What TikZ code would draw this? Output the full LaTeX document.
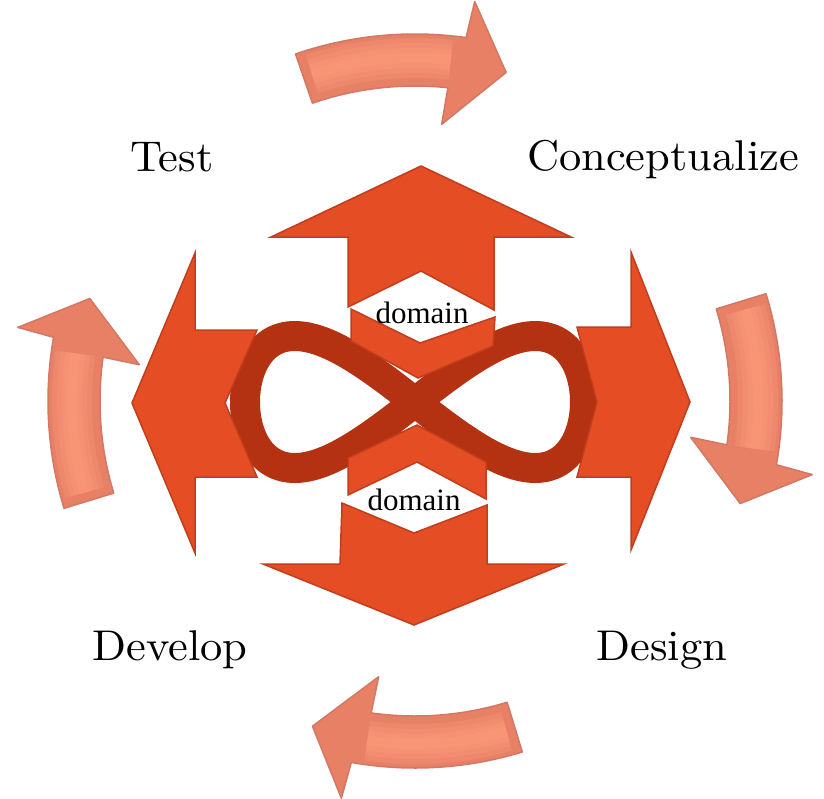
\documentclass[tikz,border=0pt]{standalone}
\usepackage{fontspec}
\usepackage{tikz}
\newfontfamily\domainfont{Liberation Serif}
\newfontfamily\phasefont[FakeStretch=1.035, Extension=.otf]{lmroman10-regular}
\definecolor{arrowred}{RGB}{229,77,37}
\definecolor{arrowedge}{RGB}{192,62,28}
\definecolor{loopred}{RGB}{180,50,18}
\definecolor{cyclefill}{RGB}{232,128,102}
\definecolor{cycleedge}{RGB}{210,120,100}
\definecolor{cyclelight}{RGB}{252,156,124}
\tikzset{
    bigarrow/.style={
        fill=arrowred,
        draw=arrowedge, % 边框颜色
        line width=1.5,
        line join=miter
    },
    loopline/.style={
        draw=loopred,
        line width=30 % 无穷符号加粗
    },
    cyclearrow/.style={
        fill=cyclefill,
        draw=cycleedge,
        line width=1.5,
        line join=round
    },
    cyclelight/.style={
        draw=cyclelight,
        opacity=0.3
    },
    phase/.style={
        inner sep=0,
        anchor=base,
        font=\phasefont\fontsize{43}{43}\selectfont
    },
    domainlabel/.style={
        inner sep=0,
        anchor=base,
        font=\domainfont\fontsize{31}{31}\selectfont
    }
}
% 外圈弯箭头, #1 = 中心角
\newcommand{\roundarrow}[1]{
    \pgfmathsetmacro{\ta}{#1-17}
    \pgfmathsetmacro{\tb}{#1+10}
    \pgfmathsetmacro{\tbi}{#1+8}
    \pgfmathsetmacro{\tbo}{#1+10.5}
    \pgfmathsetmacro{\tbb}{#1+7.5}
    \pgfmathsetmacro{\tc}{#1+17.5}
    \draw[cyclearrow] (\ta:367) arc[start angle=\ta, end angle=\tb, radius=367]
        -- (\tbo:404) -- (\tc:341) -- (\tbb:278) -- (\tbi:315)
        arc[start angle=\tbi, end angle=\ta, radius=315] -- cycle;
    % 柔和高光
    \foreach \w in {40,30,20,10}
        \draw[cyclelight, line width=\w] (\ta+1.5:343)
            arc[start angle=\ta+1.5, end angle=\tbi, radius=343];
}

\begin{document}
\begin{tikzpicture}[x=1pt, y=-1pt]
    \useasboundingbox (0,0) rectangle (824,798);
    % 外圈循环箭头
    \begin{scope}[shift={(415,401)}]
        \roundarrow{-92}
        \roundarrow{0}
        \roundarrow{90}
        \roundarrow{180}
    \end{scope}
    % 无穷符号
    \draw[loopline] plot[domain=0:360, samples=121, smooth, variable=\t]
        ({415+170*cos(\t)}, {402+132*sin(\t)*cos(\t)}) -- cycle;
    % 四个大箭头
    \draw[bigarrow] (421,166) -- (571,237) -- (494,237) -- (494,310) -- (421,271)
        -- (348,307) -- (348,237) -- (271,237) -- cycle;
    \draw[bigarrow] (414,625) -- (564,564) -- (487,564) -- (487,505) -- (414,533)
        -- (342,503) -- (340,564) -- (263,564) -- cycle;
    \draw[bigarrow] (132,403) -- (195,253) -- (195,330) -- (257,330) -- (225,403)
        -- (257,477) -- (195,477) -- (195,553) -- cycle;
    \draw[bigarrow] (690,402) -- (631,252) -- (631,327) -- (577,327) -- (597,402)
        -- (577,477) -- (631,477) -- (631,550) -- cycle;
    % 中间的两个折角
    \draw[bigarrow] (351,309) -- (420,343) -- (495,317) -- (493,346) -- (418,378)
        -- (351,341) -- cycle;
    \draw[bigarrow] (348,458) -- (417,425) -- (486,462) -- (486,499) -- (417,462)
        -- (348,495) -- cycle;
    % 文字
    \node[domainlabel] (domtop) at (422,323) {domain};
    \node[domainlabel] (dombot) at (414,510) {domain};
    \node[phase] (test) at (172,171) {Test};
    \node[phase] (concept) at (663,170) {Conceptualize};
    \node[phase] (develop) at (170,660) {Develop};
    \node[phase] (design) at (662,660) {Design};
\end{tikzpicture}
\end{document}
